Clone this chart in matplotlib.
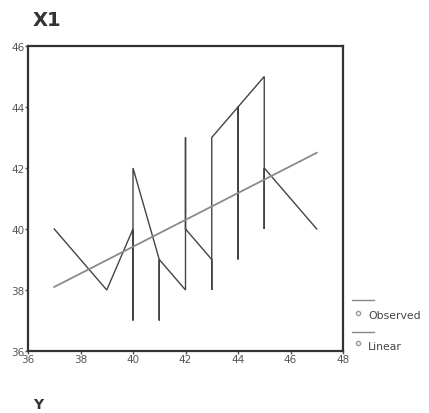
import matplotlib
matplotlib.use("Agg")
import matplotlib.pyplot as plt
from matplotlib.lines import Line2D

# Observed path (Y on x-axis, X1 on y-axis), in drawing order
obs_y = [37, 39, 40, 40, 40, 41, 41, 41, 42, 42, 42, 43, 43, 43, 44, 44, 44, 45, 45, 45, 47]
obs_x1 = [40, 38, 40, 37, 42, 39, 37, 39, 38, 43, 40, 39, 38, 43, 44, 39, 44, 45, 40, 42, 40]

# Linear fit endpoints
lin_y = [37, 47]
lin_x1 = [38.1, 42.5]

xticks = [36, 38, 40, 42, 44, 46, 48]
yticks = [36, 38, 40, 42, 44, 46]

W, H = 429, 414
fig = plt.figure(figsize=(W / 100, H / 100), dpi=100)
ax = fig.add_axes([28 / W, 1 - 352 / H, (343 - 28) / W, (352 - 47) / H])

ax.plot(obs_y, obs_x1, color="#444444", lw=1.0, solid_joinstyle="miter")
ax.plot(lin_y, lin_x1, color="#8a8a8a", lw=1.3)

ax.set_xlim(36, 48)
ax.set_ylim(36, 46)
ax.set_xticks(xticks)
ax.set_yticks(yticks)
ax.tick_params(axis="both", length=2, width=1, labelsize=7.5, labelcolor="#555555",
               color="#555555", pad=0.5)
for s in ax.spines.values():
    s.set_linewidth(1.6)
    s.set_color("#333333")

fig.text(33 / W, 1 - 20 / H, "X1", fontsize=14, fontweight="bold", color="#333333",
         va="center", ha="left")
fig.text(33 / W, 1 - 405 / H, "Y", fontsize=10, fontweight="bold", color="#333333",
         va="center", ha="left")

# legend drawn manually
for (ly, cy, ty, label) in [(301, 314, 316, "Observed"), (333, 344, 347, "Linear")]:
    fig.add_artist(Line2D([352 / W, 374 / W], [1 - ly / H, 1 - ly / H],
                          color="#888888", lw=1.0, transform=fig.transFigure))
    fig.add_artist(Line2D([358 / W], [1 - cy / H], marker="o", markersize=3,
                          markerfacecolor="none", markeredgecolor="#999999",
                          transform=fig.transFigure))
    fig.text(368 / W, 1 - ty / H, label, fontsize=7.8, color="#444444",
             va="center", ha="left")

fig.savefig("out.png", dpi=100)
